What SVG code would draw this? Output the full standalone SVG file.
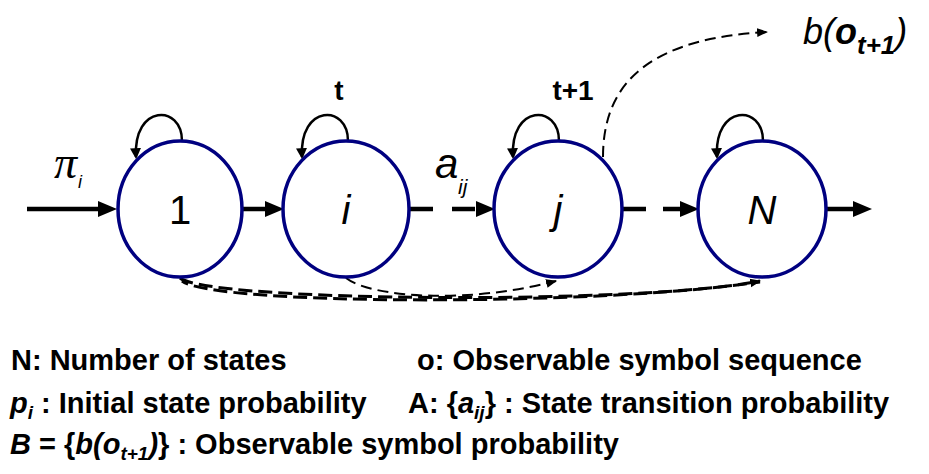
<svg xmlns="http://www.w3.org/2000/svg" width="929" height="474" viewBox="0 0 929 474">
<style>
  text { font-family: "Liberation Sans", Arial, sans-serif; fill: #000; }
  .state { fill: #fff; stroke: #000080; stroke-width: 3.5; }
  .lbl { font-size: 40px; font-style: italic; text-anchor: middle; }
  .thick { stroke: #000; stroke-width: 4.5; fill: none; }
  .loop { stroke: #000; stroke-width: 2.5; fill: none; }
  .dash1 { stroke: #000; stroke-width: 3; fill: none; stroke-dasharray: 14 6; }
  .dash2 { stroke: #000; stroke-width: 2; fill: none; stroke-dasharray: 11 6; }
  .b { font-weight: bold; font-size: 29px; }
  .pi { font-family: "Liberation Serif", serif; font-style: italic; font-size: 46px; }
</style>
<defs>
  <marker id="big" markerUnits="userSpaceOnUse" markerWidth="19" markerHeight="16" viewBox="0 0 18 15" refX="0" refY="7.5" orient="auto">
    <path d="M0,0 L18,7.5 L0,15 z" fill="#000"/>
  </marker>
  <marker id="small" markerUnits="userSpaceOnUse" markerWidth="11" markerHeight="10" viewBox="0 0 10 8" refX="9" refY="4" orient="auto">
    <path d="M0,0 L10,4 L0,8 z" fill="#000"/>
  </marker>
  <marker id="loopHead" markerUnits="userSpaceOnUse" markerWidth="11" markerHeight="11" viewBox="0 0 10 10" refX="8" refY="5" orient="auto">
    <path d="M0,0 L10,5 L0,10 z" fill="#000"/>
  </marker>
</defs>

<g id="connectors">
  <line class="thick" x1="27" y1="209" x2="98" y2="209" marker-end="url(#big)"/>
  <line class="thick" x1="243" y1="209" x2="265" y2="209" marker-end="url(#big)"/>
  <line class="thick" x1="410" y1="209" x2="476" y2="209" stroke-dasharray="23 19" marker-end="url(#big)"/>
  <line class="thick" x1="623" y1="209" x2="680" y2="209" stroke-dasharray="23 17" marker-end="url(#big)"/>
  <line class="thick" x1="827" y1="209" x2="853" y2="209" marker-end="url(#big)"/>
  <path class="loop" d="M182,141 C182,104 133,104 136,157" marker-end="url(#loopHead)"/>
  <path class="loop" d="M348,141 C348,104 299,104 302,157" marker-end="url(#loopHead)"/>
  <path class="loop" d="M559,141 C559,104 510,104 513,157" marker-end="url(#loopHead)"/>
  <path class="loop" d="M763,141 C763,104 714,104 717,157" marker-end="url(#loopHead)"/>
  <path class="dash2" d="M603,157 C603,75 660,38 767,32" marker-end="url(#small)"/>
  <path class="dash1" d="M180,278 C210,302 640,305 760,281" marker-end="url(#small)"/>
  <path class="dash1" d="M182,281 C215,306 600,306 760,282" stroke-dashoffset="7"/>
  <path class="dash2" d="M346,278 C372,298 470,304 556,281" marker-end="url(#small)"/>
</g>

<g id="node-1">
  <ellipse class="state" cx="180" cy="209" rx="62" ry="68"/>
  <text x="180" y="224" font-size="40" text-anchor="middle">1</text>
</g>
<g id="node-i">
  <ellipse class="state" cx="346" cy="209" rx="63" ry="68"/>
  <text class="lbl" x="346" y="224">i</text>
</g>
<g id="node-j">
  <ellipse class="state" cx="558" cy="209" rx="64" ry="68"/>
  <text class="lbl" x="558" y="224">j</text>
</g>
<g id="node-N">
  <ellipse class="state" cx="762" cy="209" rx="64" ry="68"/>
  <text class="lbl" x="762" y="224">N</text>
</g>

<g id="labels">
  <text class="pi" x="54" y="178">π</text>
  <text x="78" y="188" font-size="18" font-style="italic">i</text>
  <text x="339" y="100" font-size="28" font-weight="bold" text-anchor="middle">t</text>
  <text x="573" y="100" font-size="28" font-weight="bold" text-anchor="middle">t+1</text>
  <text x="435" y="178" font-size="42" font-style="italic">a</text>
  <text x="458" y="194" font-size="21" font-style="italic">ij</text>
  <text x="803" y="44" font-size="36" font-style="italic">b(<tspan font-weight="bold">o</tspan><tspan font-weight="bold" font-size="26" dy="10">t+1</tspan><tspan dy="-10">)</tspan></text>
</g>

<g id="legend">
  <text class="b" x="11" y="370">N: Number of states</text>
  <text class="b" x="417" y="370">o: Observable symbol sequence</text>
  <text class="b" x="10" y="413"><tspan font-style="italic">p</tspan><tspan font-style="italic" font-size="19" dy="6">i</tspan><tspan dy="-6"> : Initial state probability</tspan></text>
  <text class="b" x="408" y="413">A: {<tspan font-style="italic">a</tspan><tspan font-style="italic" font-size="19" dy="6">ij</tspan><tspan dy="-6">} : State transition probability</tspan></text>
  <text class="b" x="10" y="454"><tspan font-style="italic">B</tspan> = {<tspan font-style="italic">b(o</tspan><tspan font-style="italic" font-size="19" dy="6">t+1</tspan><tspan font-style="italic" dy="-6">)</tspan>} : Observable symbol probability</text>
</g>
</svg>
